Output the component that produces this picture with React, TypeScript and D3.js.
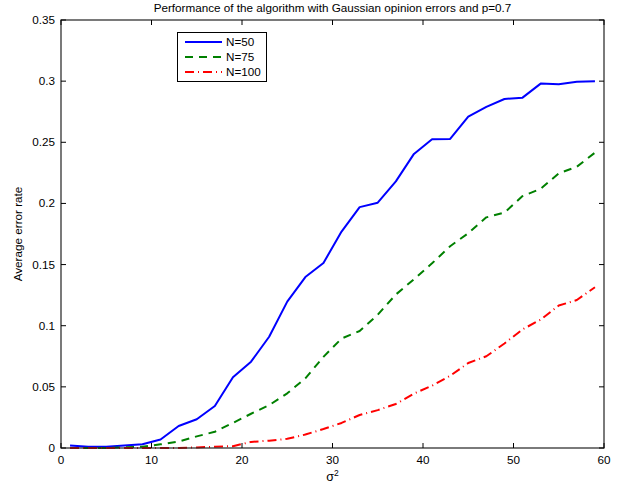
import * as d3 from "d3";

// sigma^2 values (x) and average error rate for each N
const sigma2 = [1, 3, 5, 7, 9, 11, 13, 15, 17, 19, 21, 23, 25, 27, 29, 31, 33, 35, 37, 39, 41, 43, 45, 47, 49, 51, 53, 55, 57, 59];
const err50 = [0.002, 0.001, 0.001, 0.002, 0.003, 0.007, 0.018, 0.0235, 0.0344, 0.0578, 0.0706, 0.091, 0.1197, 0.1398, 0.1513, 0.177, 0.197, 0.2006, 0.218, 0.2405, 0.2525, 0.2527, 0.271, 0.279, 0.2854, 0.2865, 0.298, 0.2974, 0.2995, 0.3];
const err75 = [0.0, 0.0, 0.0, 0.0005, 0.001, 0.003, 0.0052, 0.0095, 0.0133, 0.0205, 0.028, 0.035, 0.0447, 0.057, 0.0745, 0.0895, 0.0957, 0.109, 0.1255, 0.138, 0.151, 0.165, 0.1756, 0.1886, 0.1925, 0.206, 0.212, 0.2246, 0.23, 0.2415];
const err100 = [0.0, 0.0, 0.0, 0.0, 0.0, 0.0, 0.0, 0.0005, 0.001, 0.0015, 0.005, 0.006, 0.0075, 0.011, 0.0155, 0.0205, 0.027, 0.031, 0.036, 0.0445, 0.051, 0.059, 0.0695, 0.075, 0.0855, 0.097, 0.105, 0.1165, 0.121, 0.1315];
const seriesNames = ["N=50", "N=75", "N=100"];
const xTicks = [0, 10, 20, 30, 40, 50, 60];
const yTicks = [0, 0.05, 0.1, 0.15, 0.2, 0.25, 0.3, 0.35];

export default function App() {
  const width = 622;
  const height = 489;
  const left = 61;
  const right = 604;
  const top = 20;
  const bottom = 448;
  const font = "'Liberation Sans', Arial, sans-serif";
  const fs = 11.7;

  const x = d3.scaleLinear().domain([0, 60]).range([left, right]);
  const y = d3.scaleLinear().domain([0, 0.35]).range([bottom, top]);

  const series = [
    { name: seriesNames[0], values: err50, color: "#0000ff", dash: "none" },
    { name: seriesNames[1], values: err75, color: "#008000", dash: "8,6" },
    { name: seriesNames[2], values: err100, color: "#ff0000", dash: "9,4,1,4" },
  ];

  const line = d3
    .line<number>()
    .x((_, i) => x(sigma2[i]))
    .y((d) => y(d));

  const tickLen = 5;

  return (
    <svg
      width={width}
      height={height}
      style={{ position: "absolute", left: 0, top: 0, background: "#fff" }}
      fontFamily={font}
    >
      <rect x={0} y={0} width={width} height={height} fill="#fff" />
      <text x={(left + right) / 2} y={12} textAnchor="middle" fontSize={fs}>
        Performance of the algorithm with Gaussian opinion errors and p=0.7
      </text>

      {series.map((s) => (
        <path
          key={s.name}
          d={line(s.values) ?? ""}
          fill="none"
          stroke={s.color}
          strokeWidth={2}
          strokeDasharray={s.dash}
          strokeLinejoin="round"
        />
      ))}

      <rect
        x={left}
        y={top}
        width={right - left}
        height={bottom - top}
        fill="none"
        stroke="#222"
        strokeWidth={1.2}
      />

      {xTicks.map((t) => (
        <g key={"x" + t}>
          <line x1={x(t)} x2={x(t)} y1={bottom} y2={bottom - tickLen} stroke="#000" />
          <line x1={x(t)} x2={x(t)} y1={top} y2={top + tickLen} stroke="#000" />
          <text x={x(t)} y={bottom + 16} textAnchor="middle" fontSize={fs}>
            {t}
          </text>
        </g>
      ))}

      {yTicks.map((t) => (
        <g key={"y" + t}>
          <line x1={left} x2={left + tickLen} y1={y(t)} y2={y(t)} stroke="#000" />
          <line x1={right} x2={right - tickLen} y1={y(t)} y2={y(t)} stroke="#000" />
          <text x={left - 6} y={y(t) + 4} textAnchor="end" fontSize={fs}>
            {d3.format("")(t)}
          </text>
        </g>
      ))}

      <text
        transform={`translate(22,${(top + bottom) / 2}) rotate(-90)`}
        textAnchor="middle"
        fontSize={fs}
      >
        Average error rate
      </text>
      <text x={(left + right) / 2} y={481} textAnchor="middle" fontSize={12.5}>
        σ<tspan dy={-5} fontSize={8.5}>2</tspan>
      </text>

      <g>
        <rect x={177.5} y={32.5} width={89} height={49} fill="#fff" stroke="#000" />
        {series.map((s, i) => (
          <g key={"lg" + s.name}>
            <line
              x1={185}
              x2={222}
              y1={42 + i * 15}
              y2={42 + i * 15}
              stroke={s.color}
              strokeWidth={2}
              strokeDasharray={s.dash}
            />
            <text x={226} y={46 + i * 15} fontSize={fs}>
              {s.name}
            </text>
          </g>
        ))}
      </g>
    </svg>
  );
}
